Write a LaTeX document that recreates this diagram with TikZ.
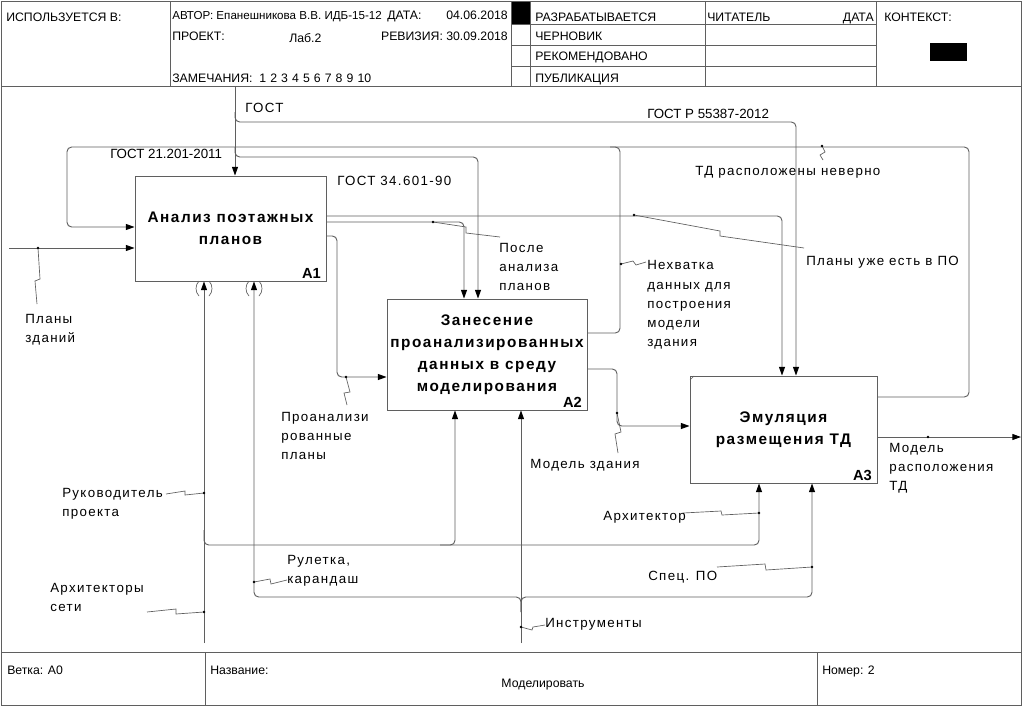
\documentclass[tikz,border=0pt]{standalone}
\usepackage{fontspec}
\setmainfont{Liberation Sans}
\newfontfamily\lblfont[LetterSpace=10]{Liberation Sans}
\usetikzlibrary{arrows.meta}
\definecolor{lc}{RGB}{95,95,95}
\begin{document}
\begin{tikzpicture}[x=0.75pt,y=-0.75pt,
  ln/.style={draw=lc, line width=0.7pt},
  thin/.style={draw=lc, line width=0.5pt},
  rc/.style={rounded corners=3.5pt},
  arr/.style={-{Triangle[length=6.5pt,width=4.5pt,color=black]}},
  dotn/.style={circle, fill=black, inner sep=0pt, minimum size=2.2pt},
  hdr/.style={anchor=base west, inner sep=0pt, font=\fontsize{9.2}{10}\selectfont},
  lbl/.style={anchor=base west, inner sep=0pt, font=\lblfont\fontsize{10}{11}\selectfont},
  plbl/.style={anchor=base west, inner sep=0pt, font=\fontsize{10}{11}\selectfont},
  box/.style={draw=lc, line width=0.7pt, align=center, inner sep=0pt,
    font=\lblfont\bfseries\fontsize{11.5}{16.5}\selectfont},
  num/.style={anchor=base east, inner sep=0pt, font=\bfseries\fontsize{11}{12}\selectfont}
]
\useasboundingbox (0,0) rectangle (1023,707);
\fill[white] (0,0) rectangle (1023,707);
% frame
\draw[ln] (1.5,1.5) rectangle (1021.5,705.5);
\draw[ln] (1.5,86) -- (1021.5,86);
\draw[ln] (1.5,652) -- (1021.5,652);
\foreach \xx in {170,511,530,705,876} {\draw[ln] (\xx,1.5) -- (\xx,86);}
\foreach \yy in {24,45,66} {\draw[ln] (511,\yy) -- (876,\yy);}
\fill[black] (512,2) rectangle (530,24);
\fill[black] (930,43) rectangle (967,61);
\draw[ln] (205,652) -- (205,705.5);
\draw[ln] (817,652) -- (817,705.5);
% header texts
\node[hdr] (t1) at (6,21) {ИСПОЛЬЗУЕТСЯ В:};
\node[hdr, font=\fontsize{8.7}{10}\selectfont] (t2) at (172,19) {АВТОР: Епанешникова В.В. ИДБ-15-12};
\node[hdr] (t3) at (387,19) {ДАТА:};
\node[hdr, anchor=base east] (t4) at (508,19) {04.06.2018};
\node[hdr] (t5) at (172,40) {ПРОЕКТ:};
\node[hdr] (t6) at (289,42) {Лаб.2};
\node[hdr, anchor=base east] (t7) at (508,40) {РЕВИЗИЯ: 30.09.2018};
\node[hdr] (t8) at (172,82) {ЗАМЕЧАНИЯ:\ \ 1\,\,2\,\,3\,\,4\,\,5\,\,6\,\,7\,\,8\,\,9\,\,10};
\node[hdr] (t9) at (535,21) {РАЗРАБАТЫВАЕТСЯ};
\node[hdr] (t10) at (535,40) {ЧЕРНОВИК};
\node[hdr] (t11) at (535,60) {РЕКОМЕНДОВАНО};
\node[hdr] (t12) at (535,82) {ПУБЛИКАЦИЯ};
\node[hdr] (t13) at (707,21) {ЧИТАТЕЛЬ};
\node[hdr, anchor=base east] (t14) at (874,21) {ДАТА};
\node[hdr] (t15) at (884,21) {КОНТЕКСТ:};
% footer texts
\node[hdr] (f1) at (7,674) {Ветка: A0};
\node[hdr] (f2) at (210,674) {Название:};
\node[hdr, anchor=base] (f3) at (543,687) {Моделировать};
\node[hdr] (f4) at (822,674) {Номер: 2};
% boxes
\node[box, minimum width=143.25pt, minimum height=78.75pt] (A1) at (230.5,228.5) {Анализ поэтажных\\планов};
\node[box, minimum width=150pt, minimum height=83.25pt] (A2) at (487,354.5) {Занесение\\проанализированных\\данных в среду\\моделирования};
\node[box, minimum width=140.25pt, minimum height=80.25pt] (A3) at (783.5,429.5) {Эмуляция\\размещения ТД};
\node[num, xshift=-4pt, yshift=2.5pt] (A1n) at (A1.south east) {A1};
\node[num, xshift=-4pt, yshift=2.5pt] (A2n) at (A2.south east) {A2};
\node[num, xshift=-4pt, yshift=2.5pt] (A3n) at (A3.south east) {A3};
\draw[thin] (690,380) -- (694,376);
% coordinates
\coordinate (g0) at (235,87);
\coordinate (g1) at (235,112);
\coordinate (g2) at (235,147);
\coordinate (cA3a) at (796,122);
\coordinate (cA2a) at (478,157);
\coordinate (o1) at (782,216);
\coordinate (o2) at (464,222);
\coordinate (o3) at (337,236);
\coordinate (o3b) at (337,377);
\coordinate (in1) at (9,248);
\coordinate (fb1) at (620,333);
\coordinate (fb2) at (620,147);
\coordinate (fb3) at (67,147);
\coordinate (fb4) at (67,227);
\coordinate (fc1) at (969,397);
\coordinate (fc2) at (969,147);
\coordinate (fc3) at (610,147);
\coordinate (m1) at (617,369);
\coordinate (m2) at (617,426);
\coordinate (out1) at (1021,437);
\coordinate (ob1) at (877,437);
\coordinate (r0) at (204,643);
\coordinate (r1) at (204,530);
\coordinate (r2) at (759,545);
\coordinate (r3) at (440,545);
\coordinate (r4) at (455,545);
\coordinate (i0) at (521,643);
\coordinate (i1) at (521,612);
\coordinate (i2) at (254,597);
\coordinate (i3) at (812,597);
% connectors
\draw[ln,arr] (g0) -- (A1.north -| g0);
\draw[ln,rc,arr] (g1) |- (cA3a) -- (A3.north -| cA3a);
\draw[ln,rc,arr] (g2) |- (cA2a) -- (A2.north -| cA2a);
\draw[ln,rc,arr] (A1.east |- o1) -- (o1) -- (A3.north -| o1);
\draw[ln,rc,arr] (A1.east |- o2) -- (o2) -- (A2.north -| o2);
\draw[ln,rc,arr] (A1.east |- o3) -- (o3) -- (o3b) -- (A2.west |- o3b);
\draw[ln,arr] (in1) -- (A1.west |- in1);
\draw[ln,rc,arr] (A2.east |- fb1) -- (fb1) -- (fb2) -- (fb3) -- (fb4) -- (A1.west |- fb4);
\draw[ln,rc] (A3.east |- fc1) -- (fc1) -- (fc2) -- (fc3);
\draw[ln,rc,arr] (A2.east |- m1) -- (m1) -- (m2) -- (A3.west |- m2);
\draw[ln,arr] (ob1) -- (out1);
\draw[ln,arr] (r0) -- (A1.south -| r0);
\draw[ln,rc,arr] (r1) |- (r2) -- (A3.south -| r2);
\draw[ln,rc,arr] (r3) -| (A2.south -| r4);
\draw[ln,arr] (i0) -- (A2.south -| i0);
\draw[ln,rc,arr] (i1) |- (i2) -- (A1.south -| i2);
\draw[ln,rc,arr] (i1) |- (i3) -- (A3.south -| i3);
% tunnels
\foreach \tx in {204,254} {
  \draw[thin] (\tx-5,281) .. controls (\tx-9,285) and (\tx-9,292) .. (\tx-5,296);
  \draw[thin] (\tx+5,281) .. controls (\tx+9,285) and (\tx+9,292) .. (\tx+5,296);
}
% squiggles and dots
\draw[thin] (38,248) -- (40,279) -- (35,281) -- (37,304);
\node[dotn] (d1) at (38,248) {};
\draw[thin] (822,146) -- (825,152) -- (820,155) -- (823,160);
\node[dotn] (d2) at (822,146) {};
\draw[thin] (634,215) -- (720,231) -- (720,236) -- (804,248);
\node[dotn] (d3) at (634,215) {};
\draw[thin] (433,222) -- (466,227) -- (466,233) -- (500,237);
\node[dotn] (d4) at (433,222) {};
\draw[thin] (621,264) -- (633,261) -- (636,265) -- (646,262);
\node[dotn] (d5) at (621,264) {};
\draw[thin] (346,377) -- (350,392) -- (344,393) -- (347,405);
\node[dotn] (d6) at (346,377) {};
\draw[thin] (617,413) -- (621,432) -- (615,434) -- (618,453);
\node[dotn] (d7) at (617,413) {};
\node[dotn] (d8) at (928,437) {};
\draw[thin] (204,493) -- (185,495) -- (185,491) -- (166,494);
\node[dotn] (d9) at (204,493) {};
\draw[thin] (204,612) -- (176,614) -- (176,609) -- (147,612);
\node[dotn] (d10) at (204,612) {};
\draw[thin] (759,513) -- (722,515) -- (721,511) -- (683,513);
\node[dotn] (d11) at (759,513) {};
\draw[thin] (254,582) -- (270,579) -- (271,584) -- (287,580);
\node[dotn] (d12) at (254,582) {};
\draw[thin] (812,567) -- (766,570) -- (765,564) -- (717,567);
\node[dotn] (d13) at (812,567) {};
\draw[thin] (521,627) -- (532,630) -- (533,627) -- (545,625);
\node[dotn] (d14) at (521,627) {};
% labels
\node[lbl] (l1) at (245,112) {ГОСТ};
\node[plbl] (l2) at (647,118) {ГОСТ Р 55387-2012};
\node[plbl] (l3) at (110,158) {ГОСТ 21.201-2011};
\node[lbl] (l4) at (337,185) {ГОСТ 34.601-90};
\node[lbl] (l5) at (695,175) {ТД расположены неверно};
\node[lbl] (l6a) at (499,252) {После};
\node[lbl] (l6b) at (499,271) {анализа};
\node[lbl] (l6c) at (499,290) {планов};
\node[lbl] (l7) at (806,265) {Планы уже есть в ПО};
\node[lbl] (l8a) at (647,269) {Нехватка};
\node[lbl] (l8b) at (647,289) {данных для};
\node[lbl] (l8c) at (647,308) {построения};
\node[lbl] (l8d) at (647,327) {модели};
\node[lbl] (l8e) at (647,346) {здания};
\node[lbl] (l9a) at (25,323) {Планы};
\node[lbl] (l9b) at (25,342) {зданий};
\node[lbl] (l10a) at (281,421) {Проанализи};
\node[lbl] (l10b) at (281,440) {рованные};
\node[lbl] (l10c) at (281,459) {планы};
\node[lbl] (l11) at (530,468) {Модель здания};
\node[lbl] (l12a) at (889,452) {Модель};
\node[lbl] (l12b) at (889,471) {расположения};
\node[lbl] (l12c) at (889,490) {ТД};
\node[lbl] (l13a) at (62,497) {Руководитель};
\node[lbl] (l13b) at (62,516) {проекта};
\node[lbl] (l14) at (603,520) {Архитектор};
\node[lbl] (l15a) at (287,564) {Рулетка,};
\node[lbl] (l15b) at (287,583) {карандаш};
\node[lbl] (l16a) at (50,592) {Архитекторы};
\node[lbl] (l16b) at (50,611) {сети};
\node[lbl] (l17) at (648,580) {Спец. ПО};
\node[lbl] (l18) at (545,627) {Инструменты};
\end{tikzpicture}
\end{document}
